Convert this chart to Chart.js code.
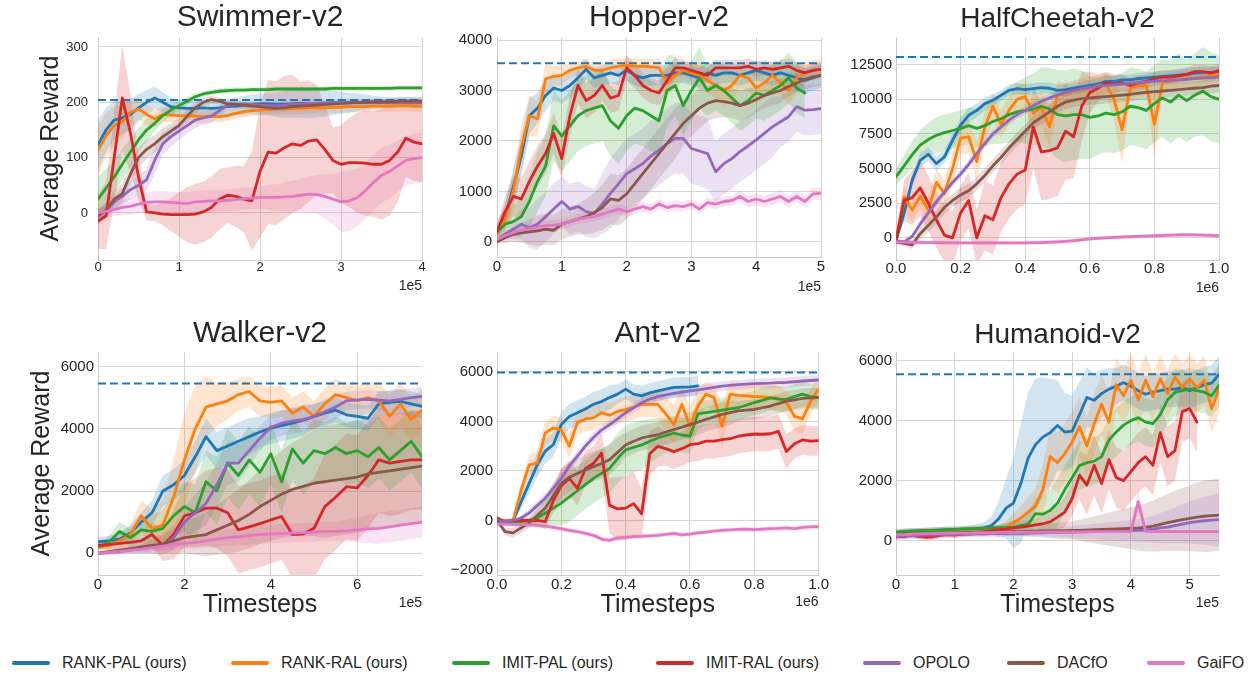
<!DOCTYPE html>
<html>
<head>
<meta charset="utf-8">
<title>Learning curves</title>
<script src="https://cdn.jsdelivr.net/npm/chart.js@4.4.1/dist/chart.umd.min.js"></script>
<style>
  html, body { margin: 0; padding: 0; background: #fff; }
  body { width: 1256px; height: 675px; position: relative; overflow: hidden;
         font-family: "Liberation Sans", Arial, sans-serif; color: #262626; }
  canvas { position: absolute; }
  .key { position: absolute; top: 652px; height: 22px; display: flex; align-items: center;
         font-size: 16px; white-space: nowrap; }
  .key i { display: inline-block; width: 38px; height: 4px; border-radius: 2px; margin-right: 12px; }
</style>
</head>
<body>
<canvas id="swimmer" width="430" height="300" style="left:0;top:0"></canvas>
<canvas id="hopper" width="400" height="300" style="left:430px;top:0"></canvas>
<canvas id="cheetah" width="426" height="300" style="left:830px;top:0"></canvas>
<canvas id="walker" width="430" height="330" style="left:0;top:300px"></canvas>
<canvas id="ant" width="400" height="330" style="left:430px;top:300px"></canvas>
<canvas id="humanoid" width="426" height="330" style="left:830px;top:300px"></canvas>
<div id="legend"></div>
<script>
// methods, in plotting order
const methods = ['RANK-PAL (ours)', 'RANK-RAL (ours)', 'IMIT-PAL (ours)', 'IMIT-RAL (ours)', 'OPOLO', 'DACfO', 'GaiFO'];
const seriesColors = ['#1f77b4', '#ff7f0e', '#2ca02c', '#d62728', '#9467bd', '#8c564b', '#e377c2'];
const legendLeft = [12, 231, 452, 656, 863, 1007, 1147];

// ---------- Swimmer-v2 (x in 1e5 steps) ----------
const swimmerX = [0,0.1,0.2,0.3,0.4,0.5,0.6,0.7,0.8,0.9,1,1.1,1.2,1.3,1.4,1.5,1.6,1.7,1.8,1.9,2,2.1,2.2,2.3,2.4,2.5,2.6,2.7,2.8,2.9,3,3.1,3.2,3.3,3.4,3.5,3.6,3.7,3.8,3.9,4];
const swimmerXTicks = [0, 1, 2, 3, 4];
const swimmerYTicks = [0, 100, 200, 300];
const swimmerExpert = 204;
const swRankPal = [123,150,168,172,178, 190,200,208,200,192, 190,189,189,190,189, 190,192,193,195,196, 197,197,196,196,197, 198,197,198,198,199, 199,199,200,200,200, 200,200,200,200,200, 200];
const swRankRal = [113,140,158,165,182, 188,178,170,178,177, 176,175,175,174,175, 174,176,180,183,185, 186,187,188,188,189, 189,190,190,190,191, 191,192,192,192,193, 193,193,194,194,193, 193];
const swImitPal = [25,45,65,88,110, 132,150,162,176,186, 194,202,210,215,218, 220,221,222,222,223, 223,223,224,224,224, 224,224,224,224,225, 225,225,225,225,225, 225,225,226,226,226, 226];
const swImitRal = [-15,-5,100,208,145, 65,2,0,-2,-3, -3,-3,-2,2,10, 25,32,30,25,22, 75,110,108,118,125, 122,130,132,115,95, 88,91,91,90,88, 88,95,110,135,128, 125];
const swOpolo = [-5,5,20,30,42, 50,60,95,125,138, 148,158,168,172,175, 185,195,196,196,196, 195,194,194,195,196, 197,198,198,199,199, 199,200,200,200,200, 200,200,200,200,200, 200];
const swDacfo = [-5,5,25,35,70, 100,115,125,138,148, 158,175,190,200,205, 202,197,196,195,193, 192,190,189,190,192, 193,194,195,196,197, 198,199,200,200,201, 201,201,202,202,202, 202];
const swGaifo = [0,3,6,10,12, 16,19,20,20,19, 18,17,20,21,22, 22,23,24,26,27, 28,28,28,29,30, 32,34,33,30,25, 20,22,28,40,55, 68,75,85,95,98, 100];
const swRankPalSd = [45,40,35,30,28, 25,22,20,18,16, 15,14,14,14,14, 14,15,16,17,18, 19,20,22,24,25, 26,26,25,24,22, 20,18,16,14,12, 10,10,10,10,10, 10];
const swRankRalSd = [45,40,35,30,25, 20,18,15,14,13, 12,12,12,12,11, 11,10,10,10,10, 10,10,10,10,10, 10,10,10,10,10, 10,10,10,10,10, 10,10,10,10,10, 10];
const swImitPalSd = [40,35,30,28,25, 22,20,15,12,10, 8,7,6,5,5, 5,5,5,4,4, 4,4,4,4,4, 4,4,4,4,4, 4,4,4,4,4, 4,4,4,4,4, 4];
const swImitRalSd = [50,60,80,95,70, 40,15,15,20,30, 40,50,55,55,55, 55,50,55,60,90, 120,130,130,130,125, 115,110,100,80,60, 70,80,90,95,95, 100,100,90,70,70, 70];
const swOpoloSd = [10,12,14,15,16, 18,20,25,20,18, 16,15,14,13,12, 10,8,7,6,6, 6,6,6,6,6, 6,6,6,6,6, 6,6,6,6,6, 6,6,6,6,6, 6];
const swDacfoSd = [12,14,16,18,18, 18,18,16,15,14, 13,12,10,8,7, 6,6,6,6,6, 6,6,6,6,6, 6,6,6,6,6, 6,6,6,6,6, 6,6,6,6,6, 6];
const swGaifoSd = [10,10,12,14,15, 16,18,20,20,20, 20,20,20,20,20, 20,20,20,20,20, 20,22,24,26,28, 30,32,35,40,45, 55,55,52,50,50, 50,48,46,45,45, 45];

// ---------- Hopper-v2 (x in 1e5 steps) ----------
const hopperX = [0,0.125,0.25,0.375,0.5,0.625,0.75,0.875,1,1.125,1.25,1.375,1.5,1.625,1.75,1.875,2,2.125,2.25,2.375,2.5,2.625,2.75,2.875,3,3.125,3.25,3.375,3.5,3.625,3.75,3.875,4,4.125,4.25,4.375,4.5,4.625,4.75,4.875,5];
const hopperXTicks = [0, 1, 2, 3, 4, 5];
const hopperYTicks = [0, 1000, 2000, 3000, 4000];
const hopperExpert = 3540;
const hpRankPal = [220,500,1080,1700,2500, 2650,2900,3050,3000,3100, 3250,3420,3250,3300,3350, 3300,3400,3300,3250,3300, 3300,3300,3350,3350,3300, 3250,3350,3300,3350,3350, 3300,3350,3400,3350,3300, 3350,3300,3250,3200,3250, 3300];
const hpRankRal = [150,450,1000,1870,2500, 2440,3230,3280,3300,3400, 3450,3480,3400,3400,3450, 3480,3500,3480,3480,3470, 3450,3150,3300,3400,3350, 3300,3200,3100,3000,3100, 3300,3250,3050,3150,3300, 3150,3000,3250,3350,3400, 3430];
const hpImitPal = [200,350,400,500,800, 1200,1500,2300,2100,2300, 2500,2600,2650,2700,2400, 2250,2500,2650,2600,2500, 2400,3000,3100,2700,3000, 3250,3000,3100,3000,2850, 2700,2800,2950,2900,3000, 3100,3250,3050,2950,null, null];
const hpImitRal = [200,600,900,850,1200, 1500,1750,2150,1650,2500, 3100,2800,2900,3100,2850, 2900,3450,3300,3100,3000, 2950,3200,3450,3450,3400, 3350,3300,3450,3450,3450, 3450,3480,3420,3450,3420, 3450,3480,3400,3350,3400, 3420];
const hpOpolo = [50,150,250,350,280, 350,500,650,800,650, 700,600,560,750,960, 1150,1350,1450,1550,1700, 1820,1950,2050,2050,1850, 1800,1750,1390,1550,1650, 1790,1900,2020,2150,2280, 2380,2480,2680,2610,2620, 2640];
const hpDacfo = [0,80,150,180,200, 220,250,230,350,400, 450,500,580,680,850, 820,950,1150,1350,1550, 1750,1950,2150,2350,2500, 2650,2750,2800,2780,2750, 2700,2750,2820,2900,2950, 3000,3080,3150,3220,3270, 3300];
const hpGaifo = [50,120,180,230,260, 290,320,330,350,400, 450,480,500,550,600, 650,600,650,700,650, 750,680,720,700,750, 650,780,750,800,820, 900,800,850,800,850, 900,800,900,800,950, 960];
const hpRankPalSd = [150,250,350,400,350, 300,300,250,250,250, 250,200,200,200,200, 200,200,200,200,200, 200,200,200,200,200, 200,200,200,200,200, 200,200,200,200,200, 200,250,250,250,250, 250];
const hpRankRalSd = [150,300,400,450,400, 350,300,200,200,150, 150,150,150,150,150, 150,150,150,150,150, 200,250,250,200,200, 250,250,250,300,300, 250,250,300,250,250, 250,300,250,200,200, 200];
const hpImitPalSd = [100,200,300,400,500, 600,600,700,700,700, 700,700,700,700,700, 700,700,700,700,700, 700,700,600,600,600, 600,500,500,500,500, 500,500,500,500,500, 500,500,500,500,null, null];
const hpImitRalSd = [150,300,400,400,400, 400,400,400,400,400, 350,350,350,300,300, 300,250,250,250,250, 250,250,200,150,150, 150,150,150,150,150, 150,150,150,150,150, 150,150,150,150,150, 150];
const hpOpoloSd = [50,100,200,300,400, 500,500,500,500,500, 500,500,500,600,700, 700,700,700,700,700, 700,700,700,700,700, 700,700,600,600,600, 600,600,600,600,600, 500,500,500,500,500, 500];
const hpDacfoSd = [50,100,150,200,250, 300,300,300,300,300, 300,350,400,450,500, 500,500,500,500,500, 500,500,500,450,400, 400,350,350,300,300, 300,300,250,250,250, 250,200,200,200,200, 200];
const hpGaifoSd = [30,50,60,80,100, 100,100,100,100,100, 100,100,100,100,100, 100,100,100,100,100, 100,100,100,100,100, 100,100,100,100,100, 120,120,120,120,120, 120,120,120,120,120, 120];

// ---------- HalfCheetah-v2 (x in 1e6 steps) ----------
const cheetahX = [0,0.025,0.05,0.075,0.1,0.125,0.15,0.175,0.2,0.225,0.25,0.275,0.3,0.325,0.35,0.375,0.4,0.425,0.45,0.475,0.5,0.525,0.55,0.575,0.6,0.625,0.65,0.675,0.7,0.725,0.75,0.775,0.8,0.825,0.85,0.875,0.9,0.925,0.95,0.975,1];
const cheetahXTicks = [0, 0.2, 0.4, 0.6, 0.8, 1];
const cheetahYTicks = [0, 2500, 5000, 7500, 10000, 12500];
const cheetahExpert = 13050;
const hcRankPal = [-200,1750,4150,5600,6030, 5360,5840,7040,8130,8850, 9200,9690,9930,10290,10650, 10770,10700,10770,10840,10800, 10650,10700,10800,10900,11000, 11100,11300,11300,11400,11400, 11500,11550,11600,11650,11700, 11750,11800,11900,11950,11950, 12000];
const hcRankRal = [-100,2960,2000,3000,2000, 4000,3200,5000,7200,7300, 5500,8000,9500,8200,9200, 10000,10200,9000,9400,8000, 10300,10400,10600,10700,10800, 11000,11100,10000,7800,10800, 11000,11000,8200,11200,11300, 11400,11500,11500,11600,11700, 11800];
const hcImitPal = [4400,5200,6000,6700,7100, 7400,7600,7750,7900,8100, 7900,8100,8400,8600,8900, 9100,9200,9300,9500,9300, 8900,8800,8900,8900,8700, 8800,9000,8900,9100,9500, 9400,9200,9700,10100,9800, 10300,9900,10300,10600,10200, 10000];
const hcImitRal = [-200,2700,2900,3600,2500, 1300,200,0,1800,2700, 0,1600,1300,2900,3900, 4600,4900,8000,6200,6300, 6500,7700,7300,9500,10500, 10800,11200,11100,11200,11000, 11200,11300,11500,11600,11600, 11700,11800,12000,12000,11900, 12100];
const hcOpolo = [-200,-300,100,1000,1800, 2600,3300,4000,4600,5300, 6100,6800,7500,8000,8500, 8900,9200,9550,9850,10100, 10300,10500,10650,10750,10850, 10950,11000,11050,11100,11150, 11200,11250,11300,11330,11370, 11400,11450,11500,11530,11570, 11600];
const hcDacfo = [-300,-400,-500,300,900, 1500,2200,2700,3100,3400, 3900,4500,5200,5800,6500, 7100,7700,8300,8700,9100, 9500,9800,9950,10050,10100, 10150,10200,10250,10300,10350, 10450,10500,10550,10600,10650, 10700,10750,10800,10850,10950, 11000];
const hcGaifo = [-300,-310,-320,-330,-340, -350,-350,-360,-360,-360, -360,-360,-360,-360,-360, -360,-360,-350,-340,-320, -290,-250,-200,-140,-80, -30,0,30,60,80, 100,120,150,170,200, 210,230,220,200,180, 150];
const hcRankPalSd = [100,300,400,500,500, 500,500,500,500,500, 500,500,400,400,400, 400,400,400,400,400, 400,400,400,400,400, 400,400,400,400,400, 400,400,400,400,400, 400,400,400,400,400, 400];
const hcRankRalSd = [300,800,900,900,900, 1000,1000,1200,1200,1200, 1500,1200,1000,1000,1000, 1000,1000,1000,1200,1500, 1000,800,800,800,800, 800,800,1500,2500,800, 700,700,2500,600,600, 600,600,600,600,600, 600];
const hcImitPalSd = [600,800,1000,1100,1200, 1300,1300,1300,1300,1300, 1400,1500,1600,1800,2000, 2200,2400,2600,2800,3000, 3200,3300,3300,3200,3000, 2800,2800,2800,2800,2800, 2800,2800,2800,2800,3000, 3000,3000,3000,3200,3200, 3200];
const hcImitRalSd = [200,1500,2000,2000,2000, 2000,2000,2000,2000,2000, 2000,2500,2500,2500,2500, 2500,2500,3000,3500,3500, 3500,3500,3000,2500,1500, 1000,800,700,600,500, 500,500,500,500,500, 500,500,500,500,500, 500];
const hcOpoloSd = [100,100,200,300,300, 300,300,300,300,300, 300,300,300,300,300, 300,300,300,300,300, 300,300,300,300,300, 300,300,300,300,300, 300,300,300,300,300, 300,300,300,300,300, 300];
const hcDacfoSd = [100,200,300,400,500, 500,500,500,500,500, 500,500,500,500,500, 500,500,500,500,500, 500,500,500,500,500, 500,500,500,500,500, 500,500,500,500,500, 500,500,500,500,500, 500];
const hcGaifoSd = [150,150,150,150,150, 150,150,150,150,150, 150,150,150,150,150, 150,150,150,150,150, 150,150,150,150,150, 150,150,150,150,150, 150,150,150,150,150, 150,150,150,150,150, 150];

// ---------- Walker-v2 (x in 1e5 steps) ----------
const walkerX = [0,0.25,0.5,0.75,1,1.25,1.5,1.75,2,2.25,2.5,2.75,3,3.25,3.5,3.75,4,4.25,4.5,4.75,5,5.25,5.5,5.75,6,6.25,6.5,6.75,7,7.25,7.5];
const walkerXTicks = [0, 2, 4, 6];
const walkerYTicks = [0, 2000, 4000, 6000];
const walkerExpert = 5460;
const wkRankPal = [375,400,450,650,1000, 1300,2000,2200,2500,3100, 3750,3300,3450,3600,3750, 3900,4020,4100,4180,4280, 4390,4500,4600,4450,4400, 4340,4800,4850,4880,4800, 4720];
const wkRankRal = [200,250,400,600,1200, 800,900,1800,3000,4000, 4700,4800,4900,5100,5200, 4900,4850,4900,4500,4700, 4400,4800,5100,5000,4900, 5000,4900,4400,4800,4300, 4600];
const wkImitPal = [200,350,700,500,750, 700,800,1200,1500,1300, 2300,2000,2900,2500,3000, 2600,3200,2300,3350,2900, 3300,3200,3400,3200,3300, 3100,3400,3000,3300,3600, 3100];
const wkImitRal = [250,280,320,350,400, 600,250,600,1200,1300, 1450,1450,1300,750,850, 950,1070,1180,600,620, 800,1500,1800,2140,2100, 2500,3000,2900,2950,3000, 3000];
const wkOpolo = [0,20,50,100,150, 200,250,500,1000,1300, 1600,2200,2900,2900,3300, 3700,4050,4180,4250,4300, 4400,4550,4700,4900,4930, 4950,4920,4900,4950,5000, 5040];
const wkDacfo = [0,50,100,150,200, 250,300,400,500,550, 600,750,900,1050,1250, 1500,1700,1900,2050,2150, 2250,2300,2350,2400,2450, 2550,2600,2650,2700,2750, 2800];
const wkGaifo = [0,30,60,100,130, 180,230,280,320,350, 400,450,500,530,570, 600,620,640,650,660, 680,700,700,720,750, 780,800,850,900,950, 1000];
const wkRankPalSd = [150,150,200,250,300, 400,500,500,500,500, 600,600,600,600,600, 500,500,500,500,500, 400,400,400,400,400, 400,400,400,400,400, 400];
const wkRankRalSd = [100,150,200,300,500, 600,800,1200,1500,1400, 1000,700,600,500,500, 500,500,500,500,500, 500,500,500,500,500, 500,600,700,700,700, 700];
const wkImitPalSd = [100,200,300,300,400, 500,600,700,800,900, 1000,1100,1100,1100,1100, 1100,1000,1000,1000,1000, 1000,1000,1000,1000,1000, 1000,1000,1000,1000,1000, 1000];
const wkImitRalSd = [100,150,200,250,300, 400,500,800,1000,1100, 1200,1300,1400,1400,1400, 1400,1400,1400,1400,1500, 1600,1700,1700,1700,1700, 1700,1700,1700,1700,1600, 1600];
const wkOpoloSd = [50,60,80,100,150, 200,300,400,500,600, 700,700,700,600,500, 400,400,400,400,400, 400,400,400,300,300, 300,300,300,300,300, 300];
const wkDacfoSd = [50,80,100,150,200, 250,300,400,500,600, 700,800,900,1000,1100, 1200,1300,1400,1500,1600, 1700,1800,1800,1800,1800, 1800,1800,1800,1800,1800, 1800];
const wkGaifoSd = [20,40,60,80,100, 120,140,160,180,200, 220,240,260,280,300, 300,300,300,300,300, 300,300,300,350,400, 450,500,500,500,500, 500];

// ---------- Ant-v2 (x in 1e6 steps) ----------
const antX = [0,0.025,0.05,0.075,0.1,0.125,0.15,0.175,0.2,0.225,0.25,0.275,0.3,0.325,0.35,0.375,0.4,0.425,0.45,0.475,0.5,0.525,0.55,0.575,0.6,0.625,0.65,0.675,0.7,0.725,0.75,0.775,0.8,0.825,0.85,0.875,0.9,0.925,0.95,0.975,1];
const antXTicks = [0, 0.2, 0.4, 0.6, 0.8, 1];
const antYTicks = [-2000, 0, 2000, 4000, 6000];
const antExpert = 5970;
const antRankPal = [0,-50,0,750,1500, 2240,2800,3060,3870,4200, 4350,4500,4690,4800,4960, 5100,5300,5100,5030,5150, 5230,5300,5370,5380,5390, 5430,null,null,null,null, null,null,null,null,null, null,null,null,null,null, null];
const antRankRal = [0,0,0,1220,2240, 2310,3530,3740,3650,3000, 3950,4100,4140,4350,4250, 4400,4480,4580,4690,4690, 4690,4300,3870,4690,3800, 4620,5100,4960,3800,5100, 5050,5030,5000,5000,4950, 4950,4760,4200,4100,4800, 5300];
const antImitPal = [0,-100,-100,-50,0, 100,300,500,700,950, 1200,1450,1700,1900,2100, 2500,2850,2950,3050,3200, 3330,3430,3530,3450,3400, 4300,4350,4400,4450,4500, 4550,4650,4760,4850,4950, 4900,4890,5000,5100,5000, 4960];
const antImitRal = [100,-50,0,0,0, 0,-50,800,1400,1700, 1300,2100,2300,2720,610, 470,500,680,270,2700, 2990,2900,2780,2900,3060, 3100,3200,3200,3260,3300, 3400,3450,3490,3480,3500, 3600,2780,3100,3250,3200, 3220];
const antOpolo = [0,-50,0,100,300, 600,900,1300,1700,2200, 2600,3000,3350,3650,3870, 4100,4350,4550,4750,4900, 5000,5070,5130,5180,5230, 5270,5320,5370,5420,5450, 5480,5500,5520,5530,5540, 5560,5570,5600,5630,5650, 5670];
const antDacfo = [0,-450,-500,-300,-100, 200,500,1000,1500,1750, 1900,2050,2170,2300,2450, 2750,3050,3200,3330,3400, 3460,3570,3670,3770,3870, 3970,4080,4180,4280,4350, 4420,4450,4480,4550,4620, 4720,4820,4870,4930,4950, 4960];
const antGaifo = [-140,-150,-160,-170,-180, -200,-230,-280,-330,-400, -450,-520,-600,-750,-800, -700,-680,-650,-640,-620, -600,-560,-520,-580,-550, -500,-470,-430,-400,-380, -360,-350,-370,-350,-330, -320,-300,-330,-280,-260, -245];
const antRankPalSd = [50,50,100,300,400, 500,500,500,500,500, 500,500,500,500,500, 400,400,400,400,400, 400,400,400,400,400, 400,null,null,null,null, null,null,null,null,null, null,null,null,null,null, null];
const antRankRalSd = [50,50,50,300,400, 500,500,500,500,500, 500,500,500,500,500, 500,500,500,500,500, 600,700,800,700,800, 700,500,500,900,500, 500,500,500,500,500, 500,500,600,600,500, 500];
const antImitPalSd = [50,100,100,100,100, 300,500,700,900,1000, 1000,1000,1000,1000,1000, 1000,1000,1000,1000,900, 800,700,700,700,700, 600,500,500,500,500, 500,500,500,500,500, 500,500,500,500,500, 500];
const antImitRalSd = [100,100,100,100,100, 200,300,500,700,700, 700,700,700,800,1100, 1300,1300,1300,1000,900, 800,700,700,700,700, 700,700,700,700,700, 700,700,700,700,700, 700,700,600,600,600, 600];
const antOpoloSd = [50,50,50,100,150, 200,200,200,200,200, 200,200,200,200,200, 200,200,200,200,200, 200,200,200,200,200, 200,200,200,200,200, 200,200,200,200,200, 200,200,200,200,200, 200];
const antDacfoSd = [100,150,200,200,200, 300,400,500,600,600, 600,600,600,600,600, 600,500,500,500,500, 500,500,500,500,500, 500,500,500,500,500, 400,400,400,400,400, 400,400,400,400,400, 400];
const antGaifoSd = [100,100,100,100,100, 100,100,100,100,100, 100,100,100,100,100, 100,100,100,100,100, 100,100,100,100,100, 100,100,100,100,100, 100,100,100,100,100, 100,100,100,100,100, 100];

// ---------- Humanoid-v2 (x in 1e5 steps) ----------
const humanoidX = [0,0.125,0.25,0.375,0.5,0.625,0.75,0.875,1,1.125,1.25,1.375,1.5,1.625,1.75,1.875,2,2.125,2.25,2.375,2.5,2.625,2.75,2.875,3,3.125,3.25,3.375,3.5,3.625,3.75,3.875,4,4.125,4.25,4.375,4.5,4.625,4.75,4.875,5,5.125,5.25,5.375,5.5];
const humanoidXTicks = [0, 1, 2, 3, 4, 5];
const humanoidYTicks = [0, 2000, 4000, 6000];
const humanoidExpert = 5550;
const huRankPal = [250,300,310,320,330, 340,350,360,370,380, 390,400,420,500,730, 1080,1250,1900,2750,3200, 3450,3600,3840,3620,3650, 4200,4770,4680,4900,5050, 5150,5270,5150,5000,4880, 4950,5000,5050,5050,5100, 5000,5100,5200,5250,5550];
const huRankRal = [250,280,300,310,320, 330,340,350,360,370, 380,390,400,410,420, 450,600,750,950,1150, 1700,2800,2600,2900,3290, 3800,3150,3900,4550,3950, 5200,4830,5350,4700,5350, 4800,5400,4900,5450,5100, 5400,5100,5350,4400,5050];
const huImitPal = [280,300,310,320,330, 340,350,360,370,380, 390,400,410,420,430, 440,450,500,540,900, 880,1000,1250,1700,2100, 2500,2600,2650,2800,3350, 3620,3850,4000,4100,3950, 3900,4200,4700,4940,5000, 5050,5000,4950,4830,5180];
const huImitRal = [150,130,180,140,110, 120,170,200,180,220, 250,280,300,330,360, 380,420,450,480,520, 560,620,780,950,1410, 2180,1850,2510,1900,2700, 2100,2000,2300,2600,2800, 2510,3600,2800,3000,4300, 4400,3950,null,null,null];
const huOpolo = [150,150,160,170,180, 180,190,200,200,210, 210,220,220,230,230, 240,240,250,250,260, 260,270,270,280,280, 290,290,300,300,310, 310,320,330,340,350, 380,420,450,500,550, 600,630,660,680,700];
const huDacfo = [200,210,220,230,240, 240,250,250,260,260, 270,270,280,280,290, 290,300,300,310,310, 320,320,330,330,340, 340,350,360,370,380, 390,400,410,420,440, 480,540,600,650,700, 740,780,810,830,850];
const huGaifo = [200,200,210,220,230, 230,240,240,250,250, 250,260,260,260,270, 270,270,280,280,280, 280,290,290,290,290, 290,300,300,300,300, 300,300,300,1300,300, 300,300,300,300,300, 300,300,300,300,300];
const huRankPalSd = [100,100,100,100,100, 100,100,100,100,100, 100,150,200,300,600, 1000,1500,2000,2200,2200, 2000,1800,1500,1300,1200, 1100,1000,900,800,700, 600,600,600,600,600, 600,600,600,600,600, 600,600,600,600,600];
const huRankRalSd = [100,100,100,100,100, 100,100,100,100,100, 100,100,100,100,100, 200,300,400,500,600, 800,1000,1000,1000,1000, 1000,1000,1000,1000,1000, 900,900,900,900,900, 800,800,800,800,800, 800,800,800,800,800];
const huImitPalSd = [100,100,100,100,100, 100,100,100,100,100, 100,100,100,100,100, 150,200,300,400,500, 600,700,800,800,800, 800,800,800,800,800, 800,800,800,800,800, 800,800,800,800,700, 700,700,700,700,700];
const huImitRalSd = [100,100,100,100,100, 100,100,100,100,100, 100,100,150,150,150, 200,200,200,200,200, 300,300,400,500,600, 800,1000,1000,1000,1000, 1000,1000,1000,1000,1000, 1000,1000,1000,1000,1000, 1000,1000,null,null,null];
const huOpoloSd = [100,100,100,100,100, 100,100,100,100,100, 100,100,100,100,100, 100,100,100,100,100, 120,140,160,180,200, 220,240,260,280,300, 320,340,360,380,400, 450,500,550,600,650, 700,750,800,850,900];
const huDacfoSd = [100,100,100,100,100, 100,100,100,100,100, 100,100,100,100,100, 120,140,160,180,200, 220,240,260,280,300, 350,400,450,500,550, 600,650,700,750,800, 850,900,950,1000,1050, 1100,1150,1200,1200,1200];
const huGaifoSd = [200,50,50,50,50, 50,50,50,50,50, 50,50,50,50,50, 50,50,50,50,50, 50,50,50,50,50, 50,50,50,50,50, 50,50,50,400,50, 50,50,50,50,50, 50,50,50,50,50];

// ---------- panel layout ----------
const panels = [
  { id: 'swimmer', title: 'Swimmer-v2', xs: swimmerX, expert: swimmerExpert,
    series: [swRankPal, swRankRal, swImitPal, swImitRal, swOpolo, swDacfo, swGaifo],
    spread: [swRankPalSd, swRankRalSd, swImitPalSd, swImitRalSd, swOpoloSd, swDacfoSd, swGaifoSd],
    xTicks: swimmerXTicks, yTicks: swimmerYTicks,
    xMin: 0, xMax: 4, yMin: -85, yMax: 318, dec: 0,
    yW: 98, xH: 40, padR: 8, tSize: 30, tPad: {top: 0, bottom: 1}, tick: 13, yPad: 10, xPad: 0,
    yTitle: 36, xTitle: false, offText: '1e5', offY: 286 },
  { id: 'hopper', title: 'Hopper-v2', xs: hopperX, expert: hopperExpert,
    series: [hpRankPal, hpRankRal, hpImitPal, hpImitRal, hpOpolo, hpDacfo, hpGaifo],
    spread: [hpRankPalSd, hpRankRalSd, hpImitPalSd, hpImitRalSd, hpOpoloSd, hpDacfoSd, hpGaifoSd],
    xTicks: hopperXTicks, yTicks: hopperYTicks,
    xMin: 0, xMax: 5, yMin: -300, yMax: 4060, dec: 0,
    yW: 67, xH: 43, padR: 9, tSize: 30, tPad: {top: 0, bottom: 1}, tick: 15, yPad: 5, xPad: 1,
    yTitle: null, xTitle: false, offText: '1e5', offY: 287 },
  { id: 'cheetah', title: 'HalfCheetah-v2', xs: cheetahX, expert: cheetahExpert,
    series: [hcRankPal, hcRankRal, hcImitPal, hcImitRal, hcOpolo, hcDacfo, hcGaifo],
    spread: [hcRankPalSd, hcRankRalSd, hcImitPalSd, hcImitRalSd, hcOpoloSd, hcDacfoSd, hcGaifoSd],
    xTicks: cheetahXTicks, yTicks: cheetahYTicks,
    xMin: 0, xMax: 1, yMin: -1600, yMax: 14500, dec: 1,
    yW: 66, xH: 40, padR: 37, tSize: 28, tPad: {top: 2, bottom: 1.4}, tick: 15, yPad: 4, xPad: 0,
    yTitle: null, xTitle: false, offText: '1e6', offY: 288 },
  { id: 'walker', title: 'Walker-v2', xs: walkerX, expert: walkerExpert,
    series: [wkRankPal, wkRankRal, wkImitPal, wkImitRal, wkOpolo, wkDacfo, wkGaifo],
    spread: [wkRankPalSd, wkRankRalSd, wkImitPalSd, wkImitRalSd, wkOpoloSd, wkDacfoSd, wkGaifoSd],
    xTicks: walkerXTicks, yTicks: walkerYTicks,
    xMin: 0, xMax: 7.5, yMin: -700, yMax: 6470, dec: 0,
    yW: 98, xH: 55, padR: 8, tSize: 30, tPad: {top: 16, bottom: 0}, tick: 15, yPad: 4, xPad: 1,
    yTitle: 27, xTitle: true, offText: '1e5', offY: 303 },
  { id: 'ant', title: 'Ant-v2', xs: antX, expert: antExpert,
    series: [antRankPal, antRankRal, antImitPal, antImitRal, antOpolo, antDacfo, antGaifo],
    spread: [antRankPalSd, antRankRalSd, antImitPalSd, antImitRalSd, antOpoloSd, antDacfoSd, antGaifoSd],
    xTicks: antXTicks, yTicks: antYTicks,
    xMin: 0, xMax: 1, yMin: -2200, yMax: 6800, dec: 1,
    yW: 67, xH: 55, padR: 10, tSize: 30, tPad: {top: 16, bottom: 0}, tick: 15, yPad: 4, xPad: 1,
    yTitle: null, xTitle: true, offText: '1e6', offY: 302 },
  { id: 'humanoid', title: 'Humanoid-v2', xs: humanoidX, expert: humanoidExpert,
    series: [huRankPal, huRankRal, huImitPal, huImitRal, huOpolo, huDacfo, huGaifo],
    spread: [huRankPalSd, huRankRalSd, huImitPalSd, huImitRalSd, huOpoloSd, huDacfoSd, huGaifoSd],
    xTicks: humanoidXTicks, yTicks: humanoidYTicks,
    xMin: 0, xMax: 5.5, yMin: -1150, yMax: 6290, dec: 0,
    yW: 66, xH: 55, padR: 37, tSize: 28, tPad: {top: 18, bottom: 0.4}, tick: 15, yPad: 4, xPad: 1,
    yTitle: null, xTitle: true, offText: '1e5', offY: 303 }
];

const FONT = '"Liberation Sans", Arial, sans-serif';
const INK = '#262626';
const GRID = '#d6d6d6';
Chart.defaults.font.family = FONT;
Chart.defaults.color = INK;

function rgba(hex, a) {
  const n = parseInt(hex.slice(1), 16);
  return 'rgba(' + (n >> 16) + ',' + ((n >> 8) & 255) + ',' + (n & 255) + ',' + a + ')';
}
function minusFmt(v) {
  return v < 0 ? '\u2212' + Math.abs(v) : String(v);
}

// draws the matplotlib-style "1e5" offset label under the x axis
const offsetText = {
  id: 'offsetText',
  afterDraw(chart, args, opts) {
    const ctx = chart.ctx;
    ctx.save();
    ctx.font = '14px ' + FONT;
    ctx.fillStyle = INK;
    ctx.textAlign = 'right';
    ctx.textBaseline = 'middle';
    ctx.fillText(opts.text, chart.chartArea.right, opts.y);
    ctx.restore();
  }
};

function buildPanel(p) {
  const datasets = [];
  // shaded spread bands first (drawn underneath)
  for (let i = 0; i < methods.length; i++) {
    const ys = p.series[i], sd = p.spread[i];
    const hi = p.xs.map((x, k) => ({x: x, y: ys[k] == null ? null : ys[k] + sd[k]}));
    const lo = p.xs.map((x, k) => ({x: x, y: ys[k] == null ? null : ys[k] - sd[k]}));
    datasets.push({data: hi, fill: '+1', backgroundColor: rgba(seriesColors[i], 0.2),
                   borderWidth: 0, pointRadius: 0, order: 3});
    datasets.push({data: lo, fill: false, borderWidth: 0, pointRadius: 0, order: 3});
  }
  // mean curves, last method on top
  for (let i = methods.length - 1; i >= 0; i--) {
    datasets.push({
      label: methods[i],
      data: p.xs.map((x, k) => ({x: x, y: p.series[i][k]})),
      borderColor: seriesColors[i], borderWidth: 2.8, pointRadius: 0,
      borderJoinStyle: 'round', borderCapStyle: 'round', fill: false, order: 0
    });
  }
  // expert level
  datasets.push({
    data: [{x: p.xMin, y: p.expert}, {x: p.xMax, y: p.expert}],
    borderColor: '#1f77b4', borderWidth: 2, borderDash: [8, 4], pointRadius: 0, fill: false, order: 1
  });

  new Chart(document.getElementById(p.id), {
    type: 'line',
    data: {datasets: datasets},
    plugins: [offsetText],
    options: {
      responsive: false,
      animation: false,
      devicePixelRatio: 1,
      layout: {padding: {left: 0, right: p.padR, top: 0, bottom: 0}},
      plugins: {
        legend: {display: false},
        tooltip: {enabled: false},
        title: {display: true, text: p.title, fullSize: false, color: INK,
                font: {size: p.tSize, weight: 'normal', lineHeight: 1.2}, padding: p.tPad},
        offsetText: {text: p.offText, y: p.offY}
      },
      scales: {
        x: {
          type: 'linear', min: p.xMin, max: p.xMax,
          grid: {color: GRID, drawTicks: false, lineWidth: 1},
          border: {color: '#cccccc'},
          ticks: {autoSkip: false, maxRotation: 0, padding: p.xPad, color: INK, font: {size: p.tick},
                  callback: v => p.dec ? v.toFixed(p.dec) : minusFmt(v)},
          afterBuildTicks: s => { s.ticks = p.xTicks.map(v => ({value: v})); },
          title: {display: p.xTitle, text: 'Timesteps', color: INK, font: {size: 25},
                  padding: {top: 0, bottom: 10}},
          afterFit: s => { s.height = p.xH; }
        },
        y: {
          type: 'linear', min: p.yMin, max: p.yMax,
          grid: {color: GRID, drawTicks: false, lineWidth: 1},
          border: {color: '#cccccc'},
          ticks: {autoSkip: false, padding: p.yPad, color: INK, font: {size: p.tick},
                  callback: v => minusFmt(v)},
          afterBuildTicks: s => { s.ticks = p.yTicks.map(v => ({value: v})); },
          title: {display: p.yTitle != null, text: 'Average Reward', color: INK, font: {size: 25},
                  padding: {top: p.yTitle || 0, bottom: 0}},
          afterFit: s => { s.width = p.yW; }
        }
      }
    }
  });
}

panels.forEach(buildPanel);

// shared legend along the bottom
const legend = document.getElementById('legend');
methods.forEach((m, i) => {
  const item = document.createElement('div');
  item.className = 'key';
  item.style.left = legendLeft[i] + 'px';
  item.innerHTML = '<i style="background:' + seriesColors[i] + '"></i><span>' + m + '</span>';
  legend.appendChild(item);
});
</script>
</body>
</html>
